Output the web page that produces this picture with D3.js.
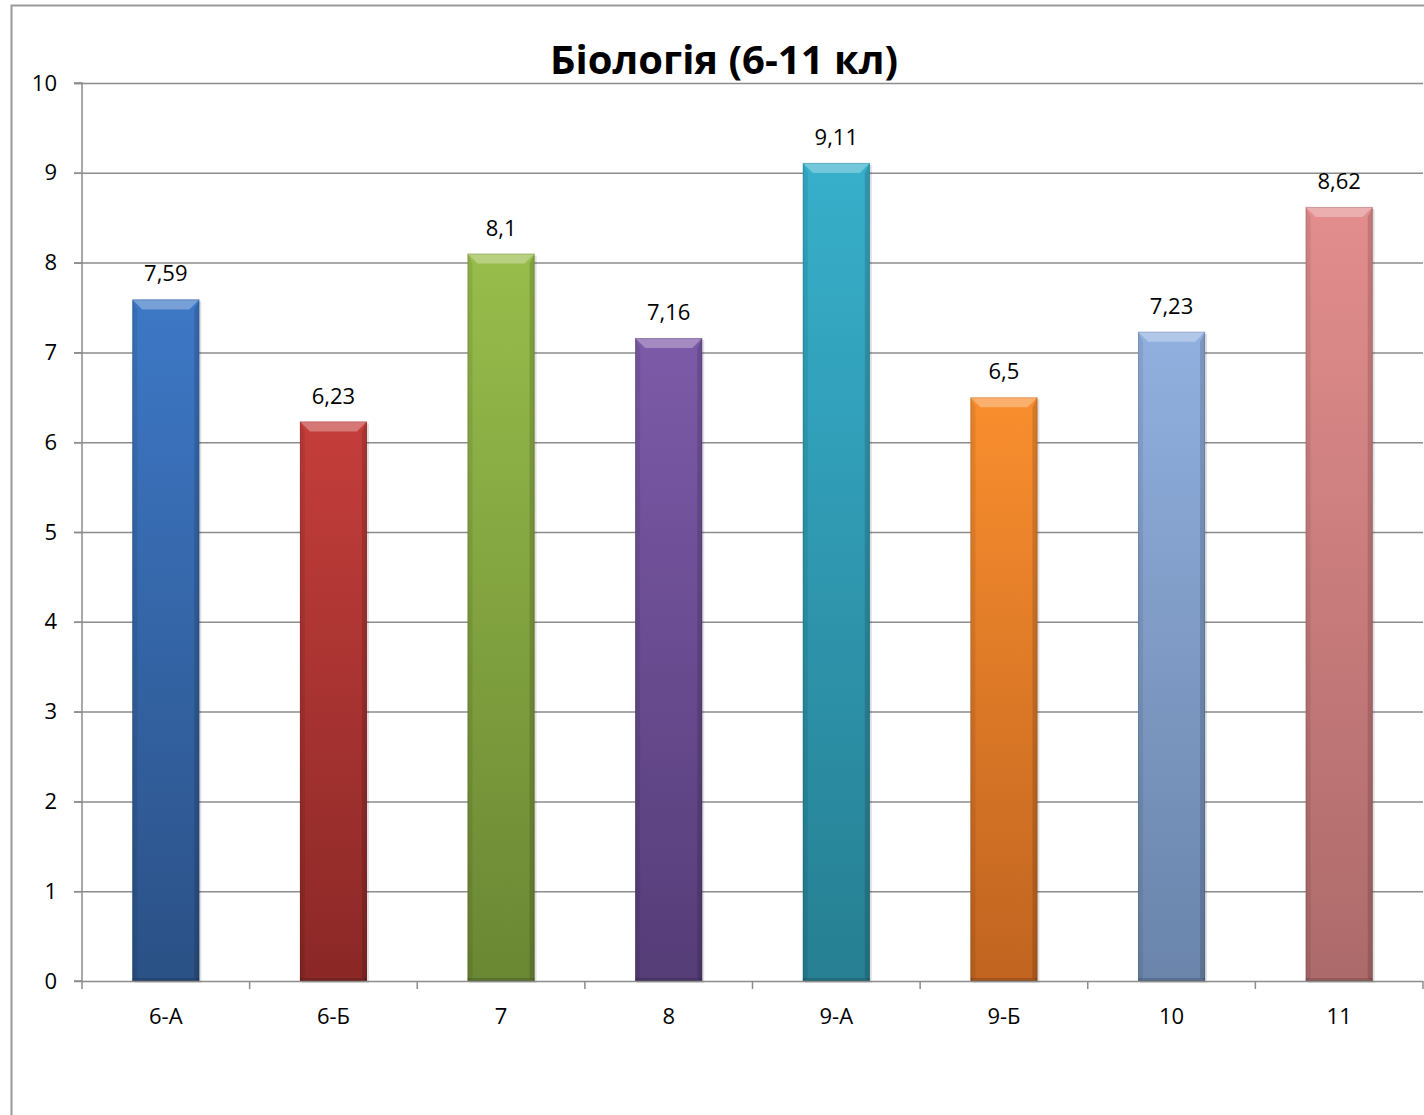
<!DOCTYPE html>
<html><head><meta charset="utf-8">
<script src="https://cdn.jsdelivr.net/npm/d3@7"></script>
<style>body{margin:0;background:#fff}svg{display:block}text{font-family:"Open Sans","Noto Sans",sans-serif}</style>
</head><body><svg id="c" width="1424" height="1115"></svg>
<script>
const categories = ["6-А","6-Б","7","8","9-А","9-Б","10","11"];
const values = [7.59,6.23,8.1,7.16,9.11,6.5,7.23,8.62];
const labels = ["7,59","6,23","8,1","7,16","9,11","6,5","7,23","8,62"];
const yTicks = [0,1,2,3,4,5,6,7,8,9,10];
const topColors = ["#3D78C6","#C43E3B","#98BD4B","#7C5AA8","#37AFCB","#F98E2E","#91B0DF","#E38D8D"];
const bottomColors = ["#2B5186","#8A2826","#6A8733","#553D78","#267F92","#C06420","#6A84AA","#AD6A6A"];
const title = "Біологія (6-11 кл)";

const svg = d3.select("#c");
const L=82, R=1423, T=83, B=981;
const x = d3.scaleBand().domain(categories).range([L,R]).paddingInner(0.6).paddingOuter(0.3);
const xs = d3.scaleBand().domain(categories).range([L,R]);
const y = d3.scaleLinear().domain([0,10]).range([B,T]);

// outer border
svg.append("rect").attr("x",11.5).attr("y",5.5).attr("width",1430).attr("height",1130)
  .attr("fill","none").attr("stroke","#9a9a9a").attr("stroke-width",2);

const defs = svg.append("defs");
categories.forEach((c,i)=>{
  const g = defs.append("linearGradient").attr("id","g"+i).attr("x1",0).attr("y1",0).attr("x2",0).attr("y2",1);
  g.append("stop").attr("offset","0%").attr("stop-color",topColors[i]);
  g.append("stop").attr("offset","100%").attr("stop-color",bottomColors[i]);
});

// gridlines
svg.append("g").selectAll("line").data(yTicks.filter(t=>t>0)).join("line")
  .attr("x1",L-8).attr("x2",R).attr("y1",d=>y(d)+0.5).attr("y2",d=>y(d)+0.5)
  .attr("stroke","#8c8c8c").attr("stroke-width",1.5);

// y axis
const ya = svg.append("g").attr("transform",`translate(${L},0)`)
  .call(d3.axisLeft(y).tickValues(yTicks).tickSize(8).tickPadding(17).tickFormat(d=>d));
ya.select(".domain").attr("stroke","#8c8c8c").attr("stroke-width",1.5).attr("d",`M-8,${T}H0V${B}H-8`);
ya.selectAll(".tick line").attr("stroke","#8c8c8c").attr("stroke-width",1.5);
ya.selectAll(".tick text").attr("font-size",22).attr("fill","#000").attr("font-family","'Open Sans',sans-serif");

// bars
const bars = svg.append("g");
categories.forEach((c,i)=>{
  const x0 = x(c), w = x.bandwidth(), yt = y(values[i]), h = B - yt;
  const g = bars.append("g");
  g.append("rect").attr("x",x0+2).attr("y",yt+2).attr("width",w).attr("height",h).attr("fill","#000").attr("opacity",0.12);
  g.append("rect").attr("x",x0).attr("y",yt).attr("width",w).attr("height",h).attr("fill",`url(#g${i})`);
  const bv = 10;
  g.append("path").attr("d",`M${x0},${yt}H${x0+w}L${x0+w-bv},${yt+bv}H${x0+bv}Z`)
    .attr("fill","#fff").attr("opacity",0.3);
  g.append("path").attr("d",`M${x0},${yt}L${x0+bv*0.5},${yt+bv}V${B-3}L${x0},${B}Z`).attr("fill","#000").attr("opacity",0.08);
  g.append("path").attr("d",`M${x0+w},${yt}L${x0+w-bv*0.5},${yt+bv}V${B-3}L${x0+w},${B}Z`).attr("fill","#000").attr("opacity",0.14);
  g.append("rect").attr("x",x0).attr("y",B-3).attr("width",w).attr("height",3).attr("fill","#000").attr("opacity",0.15);
  g.append("rect").attr("x",x0+0.5).attr("y",yt+0.5).attr("width",w-1).attr("height",h-1).attr("fill","none").attr("stroke","#000").attr("stroke-opacity",0.12);
});

// x axis
const xa = svg.append("g").attr("transform",`translate(0,${B})`)
  .call(d3.axisBottom(xs).tickSize(0).tickPadding(27));
xa.select(".domain").remove();
xa.selectAll(".tick text").attr("font-size",22).attr("fill","#000").attr("font-family","'Open Sans',sans-serif");
svg.append("line").attr("x1",L).attr("x2",R).attr("y1",B+0.5).attr("y2",B+0.5).attr("stroke","#8c8c8c").attr("stroke-width",1.5);
svg.append("g").selectAll("line").data(categories.map((c,i)=>i)).join("line")
  .attr("x1",i=>xs(categories[i])).attr("x2",i=>xs(categories[i])).attr("y1",B).attr("y2",B+8)
  .attr("stroke","#8c8c8c").attr("stroke-width",1.5);
svg.append("line").attr("x1",R).attr("x2",R).attr("y1",B).attr("y2",B+8).attr("stroke","#8c8c8c").attr("stroke-width",1.5);

// value labels
svg.append("g").selectAll("text").data(categories).join("text")
  .attr("x",c=>x(c)+x.bandwidth()/2).attr("y",(c,i)=>y(values[i])-18)
  .attr("text-anchor","middle").attr("font-size",22).attr("fill","#000")
  .text((c,i)=>labels[i]);

// title
svg.append("text").attr("x",724).attr("y",74).attr("text-anchor","middle")
  .attr("font-size",40).attr("font-weight","bold").attr("fill","#000").text(title);
</script></body></html>
